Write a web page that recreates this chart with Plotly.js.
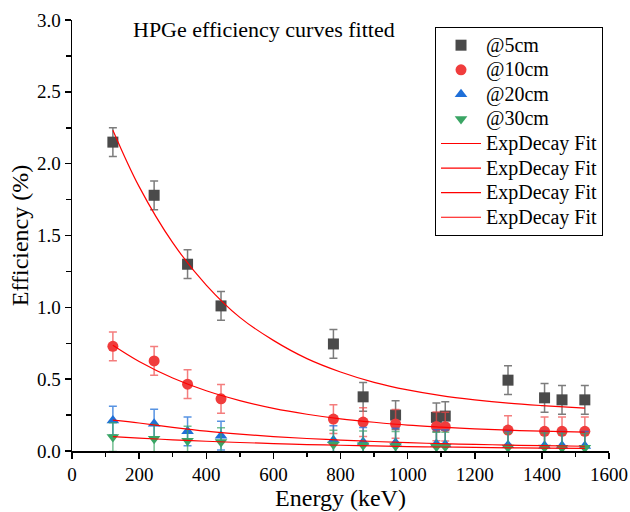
<!DOCTYPE html>
<html>
<head>
<meta charset="utf-8">
<script src="https://cdn.plot.ly/plotly-3.0.1.min.js"></script>
<style>html,body{margin:0;padding:0;background:#fff;}#chart{width:630px;height:512px;}</style>
</head>
<body>
<div id="chart"></div>
<script>
// Measured data (energy in keV, efficiency in %)
const energies = [121.8, 244.7, 344.3, 444.0, 778.9, 867.4, 964.1, 1085.8, 1112.1, 1299.1, 1408.0, 1460.0, 1528.0];
const eff5cm  = [2.15, 1.78, 1.30, 1.01, 0.745, 0.377, 0.25, 0.234, 0.243, 0.493, 0.37, 0.356, 0.356];
const eff10cm = [0.729, 0.627, 0.465, 0.363, 0.222, 0.201, 0.188, 0.171, 0.169, 0.146, 0.137, 0.137, 0.137];
const eff20cm = [0.212, 0.19, 0.137, 0.107, 0.075, 0.063, 0.058, 0.048, 0.046, 0.04, 0.037, 0.036, 0.035];
const eff30cm = [0.097, 0.085, 0.072, 0.062, 0.045, 0.04, 0.035, 0.03, 0.03, 0.025, 0.025, 0.022, 0.022];
const errAll  = [0.1, 0.1, 0.1, 0.1, 0.1, 0.1, 0.1, 0.1, 0.1, 0.1, 0.1, 0.1, 0.1];

// Fitted curves
const fitE   = [121.8, 200, 300, 400, 500, 600, 700, 800, 900, 1000, 1100, 1200, 1300, 1400, 1528];
const fit5   = [2.233, 1.84, 1.45, 1.155, 0.93, 0.77, 0.643, 0.55, 0.478, 0.425, 0.385, 0.356, 0.333, 0.316, 0.298];
const fit10  = [0.736, 0.623, 0.508, 0.419, 0.351, 0.297, 0.256, 0.224, 0.20, 0.18, 0.166, 0.154, 0.145, 0.138, 0.132];
const fit20  = [0.215, 0.195, 0.165, 0.138, 0.117, 0.10, 0.087, 0.076, 0.066, 0.058, 0.051, 0.046, 0.041, 0.037, 0.033];
const fit30  = [0.100, 0.090, 0.078, 0.068, 0.059, 0.052, 0.045, 0.040, 0.035, 0.031, 0.028, 0.025, 0.022, 0.020, 0.018];

const seriesNames = ['@5cm', '@10cm', '@20cm', '@30cm'];
const fitName = 'ExpDecay Fit';
const chartTitle = 'HPGe efficiency curves fitted';

const FONT = 'Liberation Serif';
const big = s => '<span style="font-size:20px">' + s + '</span>';

function markerTrace(name, y, symbol, color, errColor) {
  return {
    x: energies, y: y, name: big(name), type: 'scatter', mode: 'markers',
    marker: {symbol: symbol, size: 11, color: color, line: {width: 0}},
    error_y: {type: 'data', array: errAll, visible: true, color: errColor, thickness: 1.5, width: 4}
  };
}
function fitTrace(y) {
  return {
    x: fitE, y: y, name: big(fitName), type: 'scatter', mode: 'lines',
    line: {color: '#ff0000', width: 1.2, shape: 'spline'}
  };
}

const data = [
  markerTrace(seriesNames[0], eff5cm, 'square', '#4a4a4a', 'rgba(80,80,80,0.75)'),
  markerTrace(seriesNames[1], eff10cm, 'circle', '#f03c3c', 'rgba(240,70,70,0.7)'),
  markerTrace(seriesNames[2], eff20cm, 'triangle-up', '#1f6fd8', 'rgba(31,111,216,0.75)'),
  markerTrace(seriesNames[3], eff30cm, 'triangle-down', '#3aa564', 'rgba(58,165,100,0.7)'),
  fitTrace(fit5), fitTrace(fit10), fitTrace(fit20), fitTrace(fit30)
];

const layout = {
  width: 630, height: 512,
  margin: {l: 72, r: 21, t: 20, b: 61},
  paper_bgcolor: '#fff', plot_bgcolor: '#fff',
  font: {family: FONT, color: '#000', size: 18},
  showlegend: true,
  legend: {
    x: 0.676, y: 0.984, xanchor: 'left', yanchor: 'top',
    bordercolor: '#000', borderwidth: 1, bgcolor: '#fff',
    font: {family: FONT, size: 16.6, color: '#000'},
    tracegroupgap: 0, itemwidth: 40
  },
  xaxis: {
    range: [0, 1600], dtick: 200, tick0: 0,
    showgrid: false, zeroline: false,
    showline: true, linecolor: '#000', linewidth: 1.5,
    ticks: 'outside', ticklen: 6, tickwidth: 1.5, tickcolor: '#000',
    minor: {dtick: 100, ticks: 'outside', ticklen: 4, tickwidth: 1.5, tickcolor: '#000', showgrid: false},
    tickfont: {family: FONT, size: 19, color: '#000'},
    title: {text: 'Energy (keV)', font: {family: FONT, size: 24, color: '#000'}, standoff: 2}
  },
  yaxis: {
    range: [0, 3], dtick: 0.5, tick0: 0, tickformat: '.1f',
    showgrid: false, zeroline: false,
    showline: true, linecolor: '#000', linewidth: 1.5,
    ticks: 'outside', ticklen: 6, tickwidth: 1.5, tickcolor: '#000',
    minor: {dtick: 0.25, ticks: 'outside', ticklen: 5, tickwidth: 1.5, tickcolor: '#000', showgrid: false},
    tickfont: {family: FONT, size: 19, color: '#000'},
    title: {text: 'Efficiency (%)', font: {family: FONT, size: 24, color: '#000'}, standoff: 1}
  },
  annotations: [{
    text: chartTitle, xref: 'paper', yref: 'paper', x: 0.3575, y: 0.977,
    xanchor: 'center', yanchor: 'middle', showarrow: false,
    font: {family: FONT, size: 22, color: '#000'}
  }]
};

Plotly.newPlot('chart', data, layout, {displayModeBar: false, staticPlot: true});
</script>
</body>
</html>
